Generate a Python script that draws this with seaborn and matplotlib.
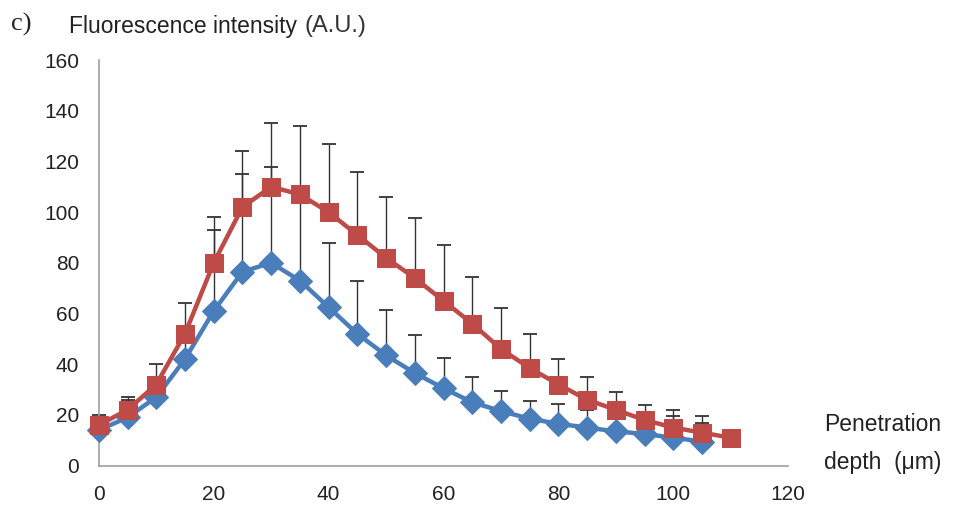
import numpy as np
import pandas as pd
import matplotlib
matplotlib.use("Agg")
import matplotlib.pyplot as plt
import seaborn as sns

# ---- data ----
depth_blue = [0, 5, 10, 15, 20, 25, 30, 35, 40, 45, 50, 55, 60, 65, 70, 75, 80, 85, 90, 95, 100, 105]
blue_vals = [14, 19, 27, 42, 61, 76.5, 80, 73, 62.5, 52, 43.5, 36.5, 30.5, 25, 21.5, 18.5, 16.5, 15, 13.5, 12.5, 11, 9.5]
blue_upper = [19, 26, 33, 50, 93, 115, 118, 105, 88, 73, 61.5, 51.5, 42.5, 35, 29.5, 25.5, 24.5, 22, 19.5, 18, 19.5, 17]

depth_red = [0, 5, 10, 15, 20, 25, 30, 35, 40, 45, 50, 55, 60, 65, 70, 75, 80, 85, 90, 95, 100, 105, 110]
red_vals = [16, 22, 32, 52, 80, 102, 110, 107, 100, 91, 82, 74, 65, 56, 46, 38.5, 32, 26, 22, 18, 15, 13, 11]
red_upper = [20, 27, 40, 64, 98, 124, 135, 134, 127, 116, 106, 97.5, 87, 74.5, 62, 52, 42, 35, 29, 24, 22, 19.5, 14]

x_ticks = [0, 20, 40, 60, 80, 100, 120]
y_ticks = [0, 20, 40, 60, 80, 100, 120, 140, 160]

BLUE = "#4a7ebb"
RED = "#be4b48"

sns.set_style("white")
plt.rcParams['font.family'] = ['Liberation Sans', 'DejaVu Sans']

fig = plt.figure(figsize=(9.59, 5.05), dpi=100)
ax = fig.add_axes([0.103, 0.078, 0.719, 0.803])

df_b = pd.DataFrame({"depth": depth_blue, "val": blue_vals})
df_r = pd.DataFrame({"depth": depth_red, "val": red_vals})

# error bars (upper only), behind the series
for d, v, u in ((depth_blue, blue_vals, blue_upper), (depth_red, red_vals, red_upper)):
    v = np.array(v); u = np.array(u)
    ax.errorbar(d, v, yerr=[np.zeros_like(v), u - v], fmt="none",
                ecolor="#333333", elinewidth=1.0, capsize=5, capthick=1.3, zorder=1)

sns.lineplot(data=df_b, x="depth", y="val", ax=ax, color=BLUE, lw=3.2,
             marker="D", markersize=12, markeredgecolor=BLUE, zorder=3)
sns.lineplot(data=df_r, x="depth", y="val", ax=ax, color=RED, lw=3.2,
             marker="s", markersize=13.5, markeredgecolor=RED, zorder=4)

ax.set_xlim(0, 120)
ax.set_ylim(0, 160)
ax.set_xticks(x_ticks)
ax.set_yticks(y_ticks)
ax.set_xlabel("")
ax.set_ylabel("")
ax.tick_params(axis="both", labelsize=15, colors="#222222", length=5,
               width=1, direction="out", color="#a0a0a0")
ax.tick_params(axis="y", pad=9)
ax.tick_params(axis="x", pad=9)
for s in ["top", "right"]:
    ax.spines[s].set_visible(False)
for s in ["left", "bottom"]:
    ax.spines[s].set_color("#a0a0a0")
    ax.spines[s].set_linewidth(1.2)
for ln in ax.lines:
    ln.set_clip_on(False)

fig.text(0.011, 0.952, "c)", fontsize=19, family=["Liberation Serif", "DejaVu Serif"],
         va="center", ha="left", color="#222222")
fig.text(0.072, 0.948, "Fluorescence intensity", fontsize=16.5, va="center", ha="left", color="#222222")
fig.text(0.318, 0.948, "(A.U.)", fontsize=17, va="center", ha="left", color="#333333")
fig.text(0.859, 0.160, "Penetration", fontsize=16.5, va="center", ha="left", color="#222222")
fig.text(0.859, 0.085, "depth  (μm)", fontsize=16.5, va="center", ha="left", color="#222222")

fig.savefig("out.png", dpi=100)
